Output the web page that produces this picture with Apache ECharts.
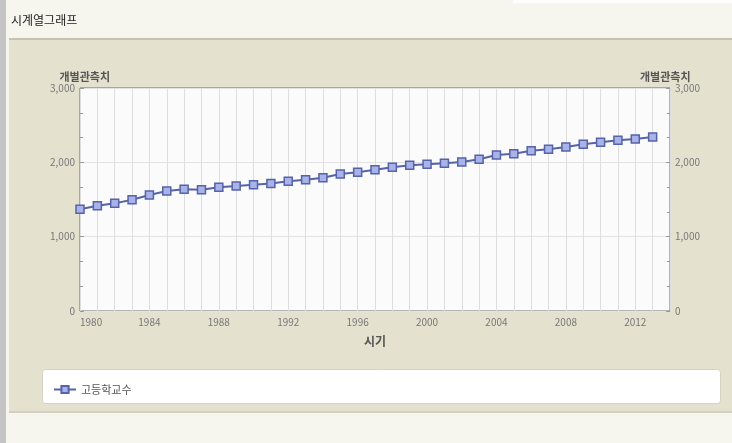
<!DOCTYPE html>
<html><head><meta charset="utf-8">
<script src="https://cdn.jsdelivr.net/npm/echarts@6/dist/echarts.min.js"></script>
<style>html,body{margin:0;padding:0;background:#f6f5ee}#c{width:732px;height:443px}</style>
</head><body><div id="c"></div>
<script>
const years = [1980,1981,1982,1983,1984,1985,1986,1987,1988,1989,1990,1991,1992,1993,1994,1995,1996,1997,1998,1999,2000,2001,2002,2003,2004,2005,2006,2007,2008,2009,2010,2011,2012,2013];
const schools = [1368,1417,1448,1497,1560,1614,1637,1632,1664,1681,1699,1715,1745,1767,1793,1843,1866,1901,1933,1960,1973,1987,2004,2041,2099,2116,2157,2175,2206,2242,2269,2296,2314,2341];
const seriesName = '고등학교수';
const yAxisName = '개별관측치';
const xAxisName = '시기';
const chartTitle = '시계열그래프';

const chart = echarts.init(document.getElementById('c'));
const font = 'Noto Sans CJK KR, sans-serif';
const yAx = (pos) => ({
  type: 'value', position: pos, min: 0, max: 3000, interval: 1000,
  name: yAxisName, nameLocation: 'end', nameGap: 6,
  nameTextStyle: {fontFamily: font, fontSize: 11, fontWeight: 'bold', color: '#555',
    align: pos === 'left' ? 'right' : 'left', padding: pos === 'left' ? [0, -30, 0, 0] : [0, 0, 0, -30]},
  axisLine: {show: false},
  axisTick: {show: true, inside: true, length: 4, lineStyle: {color: '#999'}},
  minorTick: {show: true, splitNumber: 3, length: 3, lineStyle: {color: '#999'}},
  axisLabel: {fontFamily: font, fontSize: 10, color: '#777', margin: 5,
    formatter: v => v.toLocaleString('en-US')},
  splitLine: {show: pos === 'left', lineStyle: {color: '#e2e2e2'}}
});
chart.setOption({
  animation: false,
  backgroundColor: '#f6f5ee',
  title: {text: chartTitle, left: 6, top: 9, textStyle: {fontFamily: font, fontSize: 12, fontWeight: 'normal', color: '#222'}},
  graphic: [
    {type: 'rect', left: 0, top: 0, shape: {width: 6, height: 443}, style: {fill: '#c4c4c4'}, z: -10},
    {type: 'rect', left: 513, top: 0, shape: {width: 219, height: 3}, style: {fill: '#ffffff'}, z: -10},
    {type: 'rect', left: 9, top: 38, shape: {width: 723, height: 375}, style: {fill: '#e4e1cf'}, z: -10},
    {type: 'rect', left: 9, top: 38, shape: {width: 723, height: 2}, style: {fill: '#c4c2b0'}, z: -9},
    {type: 'rect', left: 9, top: 411, shape: {width: 723, height: 2}, style: {fill: '#d2d0be'}, z: -9},
    {type: 'rect', left: 42, top: 369, shape: {width: 678, height: 34, r: 3}, style: {fill: '#ffffff', stroke: '#d4d2c0', lineWidth: 1}, z: -5}
  ],
  legend: {
    left: 48, top: 379, itemWidth: 22, itemHeight: 9, itemGap: 8,
    data: [{name: seriesName}],
    textStyle: {fontFamily: font, fontSize: 11, color: '#555'}
  },
  grid: {left: 80, right: 62, top: 88, bottom: 132, show: true, backgroundColor: '#fbfbfb', borderColor: '#6f6f6f', borderWidth: 1},
  xAxis: {
    type: 'value', min: 1980, max: 2014, interval: 1,
    name: xAxisName, nameLocation: 'middle', nameGap: 24,
    nameTextStyle: {fontFamily: font, fontSize: 12, fontWeight: 'bold', color: '#555'},
    axisLine: {show: false}, axisTick: {show: false},
    axisLabel: {fontFamily: font, fontSize: 10, color: '#777', margin: 6, alignMinLabel: 'left',
      formatter: v => (v % 4 === 0 && v <= 2012) ? String(v) : ''},
    splitLine: {show: true, lineStyle: {color: '#dedede'}}
  },
  yAxis: [yAx('left'), yAx('right')],
  series: [{
    name: seriesName, type: 'line',
    data: years.map((y, i) => [y, schools[i]]),
    symbol: 'rect', symbolSize: 8, showAllSymbol: true,
    lineStyle: {color: '#5563a8', width: 2},
    itemStyle: {color: '#a9b3ea', borderColor: '#5563a8', borderWidth: 1.5}
  }]
});
</script></body></html>
